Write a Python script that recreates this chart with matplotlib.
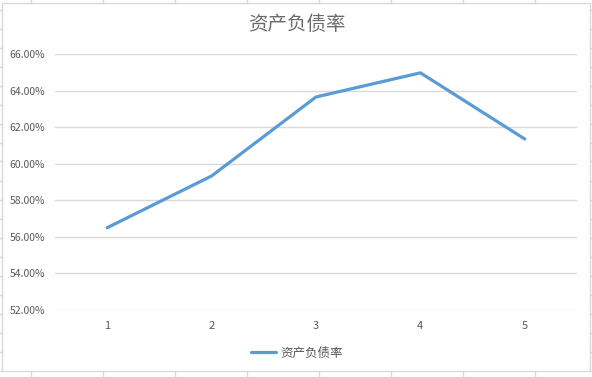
import matplotlib
matplotlib.use("Agg")
import matplotlib.pyplot as plt
from matplotlib.patches import Rectangle
from matplotlib.lines import Line2D
from matplotlib.ticker import FuncFormatter

plt.rcParams['font.family'] = ['Noto Sans CJK SC', 'DejaVu Sans']

categories = [1, 2, 3, 4, 5]
values = [56.5, 59.33, 63.65, 64.97, 61.35]
series_name = "资产负债率"
title = "资产负债率"
yticks = [52, 54, 56, 58, 60, 62, 64, 66]

W, H = 592, 377
fig = plt.figure(figsize=(W / 100, H / 100), dpi=100)

# spreadsheet background marks
sheet = "#d4d8e2"
for x in [31, 103, 175, 247, 319, 391, 463, 535]:
    fig.add_artist(Line2D([x / W, x / W], [1, 1 - 3 / H], color=sheet, lw=1, transform=fig.transFigure))
    fig.add_artist(Line2D([x / W, x / W], [0, 1 - 372 / H], color=sheet, lw=1, transform=fig.transFigure))
y = 9.5
while y < H:
    fig.add_artist(Line2D([0, 2 / W], [1 - y / H, 1 - y / H], color=sheet, lw=1, transform=fig.transFigure))
    fig.add_artist(Line2D([590 / W, 1], [1 - y / H, 1 - y / H], color=sheet, lw=1, transform=fig.transFigure))
    y += 19

# chart area border
fig.add_artist(Rectangle((2 / W, 1 - 371 / H), 588 / W, 368 / H, transform=fig.transFigure,
                         facecolor="white", edgecolor="#d9d9d9", lw=1, zorder=0))

ax = fig.add_axes([55 / W, 1 - 310 / H, 522 / W, 256 / H])
ax.set_facecolor("none")
ax.plot(categories, values, color="#5b9bd5", lw=2.3, solid_capstyle="round", label=series_name)
ax.set_xlim(0.5, 5.5)
ax.set_ylim(52, 66)
ax.set_yticks(yticks)
ax.set_xticks(categories)
ax.yaxis.set_major_formatter(FuncFormatter(lambda v, p: f"{v:.2f}%"))
ax.grid(axis="y", color="#d9d9d9", lw=1)
ax.set_axisbelow(True)
for s in ax.spines.values():
    s.set_visible(False)
ax.tick_params(axis="both", length=0, labelsize=7.5, colors="#595959")
ax.tick_params(axis="x", labelsize=8)
ax.tick_params(axis="y", pad=7)
ax.tick_params(axis="x", pad=8)

fig.text(297 / W, 1 - 24 / H, title, ha="center", va="center", fontsize=14, color="#6b6b6b")

leg = fig.legend(loc="center", bbox_to_anchor=(297 / W, 1 - 353 / H), frameon=False,
                 fontsize=9, handlelength=2.0, handletextpad=0.3)
for t in leg.get_texts():
    t.set_color("#595959")

fig.savefig("out.png", dpi=100)
